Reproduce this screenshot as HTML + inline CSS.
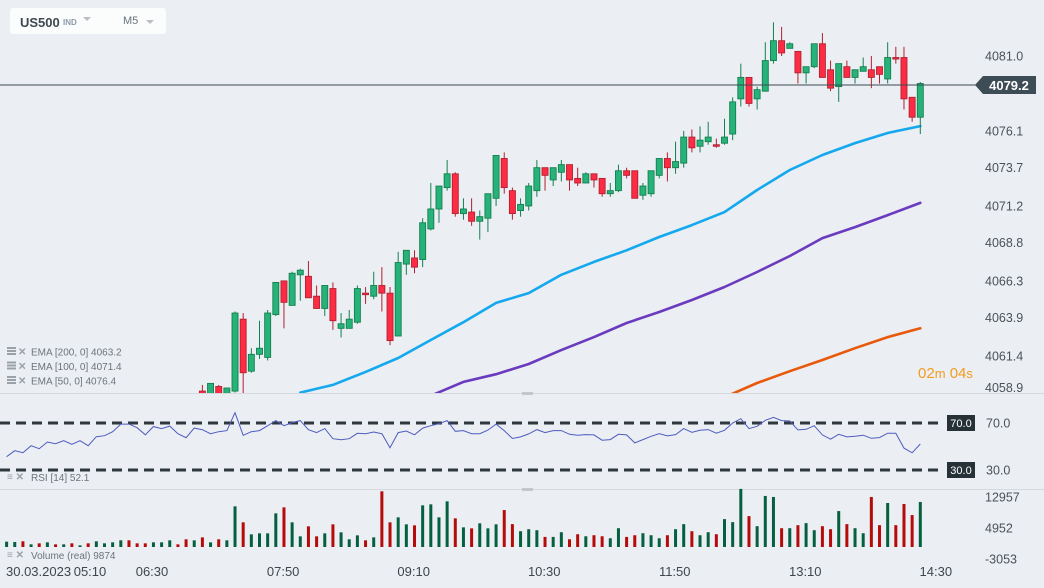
<!DOCTYPE html>
<html><head><meta charset="utf-8">
<style>
html,body{margin:0;padding:0;background:#ebeef2;}
#wrap{position:relative;width:1044px;height:588px;overflow:hidden;font-family:"Liberation Sans",sans-serif;}
svg text{font-family:"Liberation Sans",sans-serif;}
</style></head>
<body>
<div id="wrap">
<svg id="chart" width="1044" height="588" viewBox="0 0 1044 588">
<defs>
<clipPath id="pricePane"><rect x="0" y="0" width="960" height="393"/></clipPath>
</defs>
<rect x="0" y="0" width="1044" height="588" fill="#ebeef2"/>
<line x1="0" y1="393.5" x2="1044" y2="393.5" stroke="#d5d9de" stroke-width="1"/>
<rect x="522" y="392" width="11" height="3" fill="#c3c6ca"/>
<line x1="0" y1="489.5" x2="1044" y2="489.5" stroke="#d5d9de" stroke-width="1"/>
<rect x="522" y="488" width="11" height="3" fill="#c3c6ca"/>
<g id="emaLayer" clip-path="url(#pricePane)"></g>
<g id="candleLayer" clip-path="url(#pricePane)"></g>
<line x1="0" y1="85" x2="976" y2="85" stroke="#3b4a52" stroke-width="1"/>
<g id="priceAxis"></g>
<g>
<polygon points="975,85 983,76 1036,76 1036,94 983,94" fill="#3d4c55"/>
<text x="1009" y="90" text-anchor="middle" font-size="13" font-weight="bold" fill="#ffffff">4079.2</text>
</g>
<g>
<text x="918" y="378" font-size="15" fill="#f39c1f">02<tspan font-size="13">m</tspan> 04<tspan font-size="13">s</tspan></text>
</g>
<g id="emaLegend"></g>
<g id="rsiLayer"></g>
<g id="volLayer"></g>
<g id="timeAxis"></g>
</svg>
<div style="position:absolute;left:10px;top:8px;width:156px;height:26px;background:#fbfcfc;border-radius:3px;">
<span style="position:absolute;left:10px;top:7px;font-size:13px;font-weight:bold;color:#3d4850;">US500</span>
<span style="position:absolute;left:53px;top:10px;font-size:8px;font-weight:bold;color:#8a9aa6;">IND</span>
<span style="position:absolute;left:73px;top:9px;width:0;height:0;border-left:4px solid transparent;border-right:4px solid transparent;border-top:4px solid #b8bec4;"></span>
<span style="position:absolute;left:113px;top:7px;font-size:11px;color:#6a747c;">M5</span>
<span style="position:absolute;left:136px;top:12px;width:0;height:0;border-left:4px solid transparent;border-right:4px solid transparent;border-top:4px solid #b8bec4;"></span>
</div>
</div>
<script>
const NS="http://www.w3.org/2000/svg";
// ---- chart data ----
const opens=[4056.2,4056.6,4057.0,4056.7,4057.0,4056.8,4057.2,4057.0,4057.3,4057.0,4057.2,4056.9,4057.3,4057.5,4057.7,4058.1,4057.7,4057.5,4057.2,4057.5,4057.8,4058.2,4057.9,4057.4,
4059.1,4058.7,4059.4,4058.8,4059.1,4063.8,4060.4,4061.5,4061.3,4064.1,4066.3,4064.7,4066.7,4066.6,4065.3,4064.5,4065.8,4063.2,4063.2,4063.6,4065.5,4065.3,4066.0,4065.5,4062.7,4067.4,4067.8,4067.7,4069.7,4071.0,4072.4,4073.3,4070.7,4070.8,4070.2,4070.4,4071.7,4074.3,4072.2,4070.9,4071.2,4072.2,4073.7,4072.9,4073.4,4073.9,4073.0,4072.7,4073.3,4073.0,4072.0,4072.2,4073.5,4073.5,4071.9,4072.0,4073.2,4074.3,4073.7,4074.0,4075.7,4075.1,4075.4,4075.2,4075.3,4075.9,4078.2,4079.6,4078.2,4078.7,4080.7,4082.0,4081.5,4081.3,4079.9,4080.3,4081.8,4080.1,4079.0,4080.3,4079.6,4080.0,4080.1,4080.3,4079.5,4080.9,4080.9,4078.3,4077.0];
const highs=[4056.8,4057.2,4057.2,4057.1,4057.1,4057.4,4057.3,4057.4,4057.4,4057.3,4057.3,4057.4,4057.6,4057.8,4058.2,4058.2,4057.8,4057.6,4057.6,4057.9,4058.3,4058.3,4058.0,4058.3,
4059.5,4059.6,4059.5,4059.3,4064.3,4064.2,4061.9,4063.7,4064.4,4066.2,4066.3,4066.9,4067.1,4067.6,4066.0,4066.0,4066.2,4064.2,4064.4,4066.0,4065.9,4066.9,4067.2,4065.9,4068.2,4068.3,4068.3,4070.4,4072.7,4072.5,4074.2,4073.4,4071.7,4071.7,4070.9,4072.0,4074.5,4074.7,4072.4,4071.7,4072.7,4074.2,4073.7,4073.7,4074.2,4073.9,4073.7,4073.4,4073.3,4073.0,4072.7,4073.9,4073.7,4073.5,4072.7,4073.5,4074.3,4074.7,4075.4,4076.1,4076.2,4076.4,4076.7,4075.6,4076.9,4078.3,4080.5,4079.6,4079.0,4081.9,4083.2,4082.9,4081.9,4081.3,4080.3,4081.8,4082.5,4080.7,4080.5,4080.7,4080.1,4080.9,4081.0,4080.3,4081.9,4081.6,4081.6,4078.3,4079.3];
const lows=[4056.0,4056.4,4056.5,4056.6,4056.6,4056.7,4056.9,4056.9,4056.9,4056.9,4056.8,4056.8,4057.2,4057.4,4057.6,4057.6,4057.4,4057.1,4057.1,4057.4,4057.7,4057.8,4057.3,4057.3,
4058.8,4058.6,4058.6,4058.7,4059.0,4058.5,4060.3,4061.2,4061.1,4064.0,4063.2,4064.7,4065.0,4065.2,4064.5,4064.0,4063.1,4062.6,4063.2,4063.5,4064.8,4065.1,4064.3,4062.1,4062.7,4066.7,4066.8,4067.2,4069.6,4070.1,4072.2,4070.5,4070.3,4069.9,4069.0,4069.5,4071.2,4072.0,4070.3,4070.5,4070.9,4071.8,4072.2,4072.5,4072.8,4072.2,4072.5,4072.7,4072.4,4071.8,4071.8,4072.1,4073.0,4071.7,4071.6,4071.8,4073.0,4072.8,4073.3,4073.7,4074.7,4074.7,4075.2,4075.0,4075.2,4075.5,4077.7,4077.7,4077.5,4078.7,4080.5,4081.0,4081.5,4079.2,4079.2,4080.2,4079.6,4078.7,4078.0,4079.6,4079.2,4080.0,4078.9,4079.2,4079.2,4080.5,4077.5,4076.7,4075.9];
const closes=[4056.6,4057.0,4056.7,4057.0,4056.8,4057.2,4057.0,4057.3,4057.0,4057.2,4056.9,4057.3,4057.5,4057.7,4058.1,4057.7,4057.5,4057.2,4057.5,4057.8,4058.2,4057.9,4057.4,4058.2,
4058.9,4059.6,4058.8,4059.3,4064.2,4060.3,4061.5,4061.9,4064.2,4066.2,4064.9,4066.8,4067.0,4065.2,4064.5,4066.0,4063.7,4063.5,4063.8,4065.8,4065.4,4066.0,4065.5,4062.4,4067.5,4068.3,4067.2,4070.1,4071.0,4072.5,4073.3,4070.7,4071.0,4070.2,4070.5,4072.0,4074.5,4072.4,4070.7,4071.3,4072.5,4073.7,4073.2,4073.7,4073.9,4072.9,4072.7,4073.3,4072.9,4072.0,4072.2,4073.5,4073.2,4071.7,4072.5,4073.5,4074.3,4073.7,4074.1,4075.7,4075.0,4075.5,4075.7,4075.1,4075.7,4078.0,4079.6,4077.9,4078.8,4080.7,4082.0,4081.2,4081.8,4079.9,4080.3,4081.8,4079.6,4078.9,4080.5,4079.6,4080.1,4080.3,4079.6,4079.8,4080.9,4080.8,4078.2,4077.0,4079.2];
const volumes=[1380,1300,1470,690,950,1210,690,690,950,430,950,1470,950,1210,1730,1730,950,950,1210,1210,1730,690,1990,1730,2500,1210,1990,1730,10530,6390,3280,3540,3540,8720,10270,6390,2760,5350,2760,3540,5870,3800,1990,3020,1730,2500,14420,6390,7680,5870,5610,10790,11050,7680,11830,7420,5090,4830,6130,4830,5870,
9570,5920,4090,4610,4350,2610,2610,3830,2000,3310,2780,3050,2780,2260,4870,2610,3050,3570,3050,2260,3050,4610,5920,4090,3050,3830,3310,7220,6440,15050,8000,5390,13220,12960,4870,4870,5650,6180,4350,5390,4610,9310,5920,4870,3570,12960,5650,11400,5650,11140,8270,11660];
const rsiValues=[41.3,46.4,44.7,50.7,48.1,53.8,52.4,54.9,51.9,54.9,50.7,58.3,59.2,62.6,69.1,69.1,66.0,60.0,66.9,65.2,67.4,60.9,57.5,65.7,64.3,60.9,62.6,63.5,
78.8,59.5,62.6,63.5,67.7,72.0,67.7,70.3,72.0,64.3,61.8,65.2,56.6,55.8,56.6,61.2,60.9,62.3,60.9,49.0,61.8,63.2,60.0,65.7,67.7,69.4,72.0,62.9,63.5,60.9,60.9,64.0,69.1,
63.5,56.8,58.2,60.7,64.4,61.8,63.5,63.5,60.4,59.6,60.1,59.9,55.4,55.9,60.4,59.9,53.1,55.9,58.7,61.0,59.0,60.1,65.2,62.1,63.8,64.4,61.3,63.8,70.0,73.7,65.2,67.2,72.3,74.8,72.0,71.7,64.1,64.6,67.7,59.9,56.2,60.4,58.2,58.7,59.6,57.0,57.6,61.3,61.3,48.6,44.6,52.1];
const emaIdx=[36,40,44,48,52,56,60,64,68,72,76,80,84,88,92,96,100,104,108,112];
const ema50=[4059.0,4059.5,4060.35,4061.26,4062.44,4063.6,4064.86,4065.5,4066.7,4067.54,4068.3,4069.17,4069.95,4070.8,4072.24,4073.55,4074.53,4075.31,4075.97,4076.42];
const ema100=[null,null,null,null,4058.8,4059.7,4060.2,4060.87,4061.78,4062.63,4063.55,4064.27,4065.05,4065.9,4066.88,4067.93,4069.1,4069.82,4070.6,4071.4];
const ema200=[null,null,null,null,null,null,null,null,null,null,null,null,null,4058.7,4059.63,4060.4,4061.13,4061.9,4062.63,4063.2];
const priceTicks=[4081.0,4076.1,4073.7,4071.2,4068.8,4066.3,4063.9,4061.4,4058.9];
const rsiTicks=[70.0,30.0];
const volTicks=[12957,4952,-3053];
const timeLabels=["07:50","09:10","10:30","11:50","13:10","14:30"];
const timeLabelIdx=[33.9,49.9,65.9,81.9,97.9,113.9];
const emaLegendText=["EMA [200, 0] 4063.2","EMA [100, 0] 4071.4","EMA [50, 0] 4076.4"];

// ---- scales ----
function xOf(i){return 6.6+i*8.158;}
function yP(p){return 56+(4081.0-p)*15.3;}
function yR(v){return 423+(70-v)*1.175;}
function yV(v){return 547-v/259;}
function mk(tag,attrs,parent){const e=document.createElementNS(NS,tag);for(const k in attrs)e.setAttribute(k,attrs[k]);parent.appendChild(e);return e;}

// ---- EMA lines ----
const emaLayer=document.getElementById('emaLayer');
function drawEma(arr,color,name){
  let pts=[];
  for(let k=0;k<emaIdx.length;k++){if(arr[k]!==null)pts.push(xOf(emaIdx[k]).toFixed(1)+','+yP(arr[k]).toFixed(1));}
  const pl=mk('polyline',{points:pts.join(' '),fill:'none',stroke:color,'stroke-width':2.6,'stroke-linejoin':'round','stroke-linecap':'round'},emaLayer);
  
  
}
drawEma(ema200,'#e8590c','ema-200-line');
drawEma(ema100,'#6a3bbf','ema-100-line');
drawEma(ema50,'#14a8ef','ema-50-line');

// ---- candles ----
const cl=document.getElementById('candleLayer');
for(let i=0;i<opens.length;i++){
  const up=closes[i]>=opens[i];
  const fill=up?'#27b27a':'#fd2c44', edge=up?'#13804f':'#b3202f';
  const g=mk('g',{},cl);
  
  
  const x=xOf(i);
  mk('line',{x1:x,x2:x,y1:yP(highs[i]),y2:yP(lows[i]),stroke:edge,'stroke-width':1},g);
  const top=yP(Math.max(opens[i],closes[i])), bot=yP(Math.min(opens[i],closes[i]));
  mk('rect',{x:x-3,y:top,width:6,height:Math.max(1.2,bot-top),fill:fill,stroke:edge,'stroke-width':0.9},g);
}

// ---- price axis ----
const pa=document.getElementById('priceAxis');
for(const t of priceTicks){
  let y=yP(t)+4.5;
  if(y>390)y=392;
  const tx=mk('text',{x:985,y:y,'font-size':12.5,fill:'#4a5258'},pa);
  tx.textContent=t.toFixed(1);
  
  
}

// ---- EMA legend ----
const el=document.getElementById('emaLegend');
for(let k=0;k<emaLegendText.length;k++){
  const y=353+k*14.5;
  const ic=mk('g',{},el);
  
  
  mk('rect',{x:7,y:y-6,width:9,height:2,fill:'#9aa1a8'},ic);
  mk('rect',{x:7,y:y-3,width:9,height:2,fill:'#9aa1a8'},ic);
  mk('rect',{x:7,y:y,width:9,height:2,fill:'#9aa1a8'},ic);
  const cx=mk('text',{x:18,y:y+2,'font-size':10,fill:'#9aa1a8','font-weight':'bold'},el);
  cx.textContent='✕';
  
  
  const tx=mk('text',{x:31,y:y+2.5,'font-size':10,fill:'#6c747a'},el);
  tx.textContent=emaLegendText[k];
  
  
}

// ---- RSI ----
const rl=document.getElementById('rsiLayer');
for(const t of rsiTicks){
  const ln=mk('line',{x1:0,x2:944,y1:yR(t),y2:yR(t),stroke:'#2e383e','stroke-width':3,'stroke-dasharray':'10 6'},rl);
  
  
  const bx=mk('rect',{x:947,y:yR(t)-8,width:28,height:16,fill:'#263238'},rl);
  
  
  const bt=mk('text',{x:961,y:yR(t)+4,'text-anchor':'middle','font-size':11,fill:'#ffffff'},rl);
  bt.textContent=t.toFixed(1);
  
  
  const at=mk('text',{x:986,y:yR(t)+4.5,'font-size':12.5,fill:'#4a5258'},rl);
  at.textContent=t.toFixed(1);
  
  
}
const rp=rsiValues.map((v,i)=>xOf(i).toFixed(1)+','+yR(v).toFixed(1)).join(' ');
const rline=mk('polyline',{points:rp,fill:'none',stroke:'#4e5cc0','stroke-width':1},rl);


const rlab=mk('text',{x:31,y:481,'font-size':10,fill:'#6c747a'},rl);
rlab.textContent='RSI  [14]  52.1';


const ri=mk('text',{x:7,y:480,'font-size':10,fill:'#9aa1a8','font-weight':'bold'},rl);
ri.textContent='≡ ✕';



// ---- Volume ----
const vl=document.getElementById('volLayer');
for(let i=0;i<volumes.length;i++){
  const up=closes[i]>=opens[i];
  const r=mk('rect',{x:xOf(i)-1.5,y:yV(volumes[i]),width:3,height:yV(0)-yV(volumes[i]),fill:up?'#04603f':'#b50b0b'},vl);
  
  
}
for(const t of volTicks){
  const tx=mk('text',{x:985,y:yV(t)+4.5,'font-size':12.5,fill:'#4a5258'},vl);
  tx.textContent=String(t);
  
  
}
const vlab=mk('text',{x:31,y:559,'font-size':10,fill:'#6c747a'},vl);
vlab.textContent='Volume  (real)  9874';


const vi=mk('text',{x:7,y:558,'font-size':10,fill:'#9aa1a8','font-weight':'bold'},vl);
vi.textContent='≡ ✕';



// ---- Time axis ----
const ta=document.getElementById('timeAxis');
const dt=mk('text',{x:6,y:576,'font-size':13,fill:'#3e464c'},ta);
dt.textContent='30.03.2023';


const t1=mk('text',{x:90,y:576,'text-anchor':'middle','font-size':13,fill:'#3e464c'},ta);
t1.textContent='05:10';


const t2=mk('text',{x:152,y:576,'text-anchor':'middle','font-size':13,fill:'#3e464c'},ta);
t2.textContent='06:30';


for(let k=0;k<timeLabels.length;k++){
  const tx=mk('text',{x:xOf(timeLabelIdx[k]),y:576,'text-anchor':'middle','font-size':13,fill:'#3e464c'},ta);
  tx.textContent=timeLabels[k];
  
  
}
</script>
</body></html>
